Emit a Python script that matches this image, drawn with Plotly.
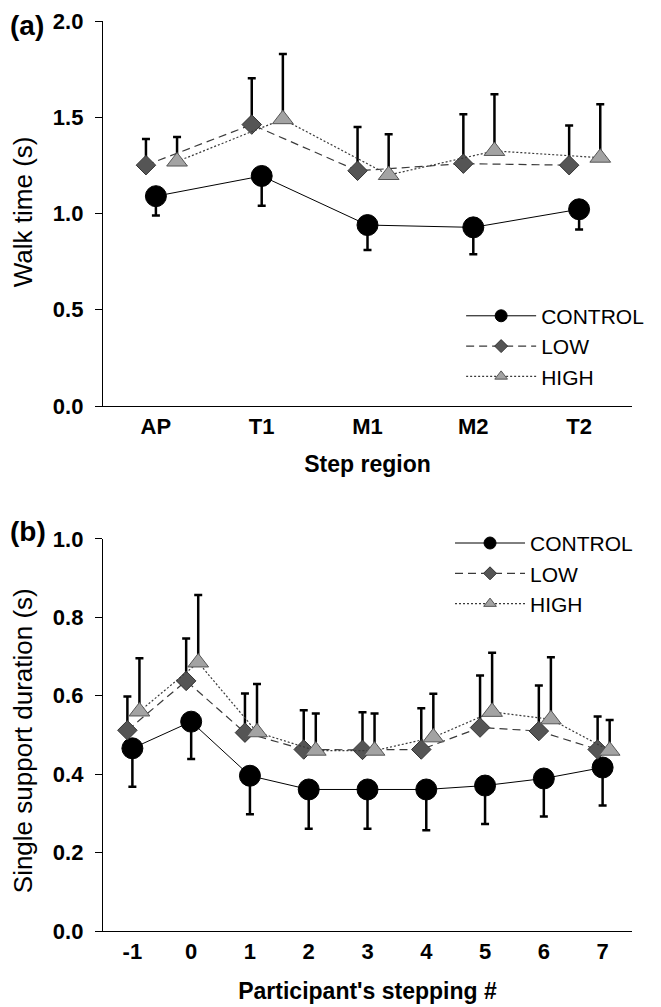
import numpy as np
import plotly.graph_objects as go

# ---------------- data ----------------
regions = ["AP", "T1", "M1", "M2", "T2"]
walk_control = [1.09, 1.195, 0.94, 0.928, 1.022]
walk_control_sd = [0.10, 0.155, 0.13, 0.14, 0.105]
walk_low = [1.251, 1.462, 1.222, 1.259, 1.251]
walk_low_sd = [0.136, 0.24, 0.228, 0.256, 0.206]
walk_high = [1.27, 1.49, 1.20, 1.325, 1.29]
walk_high_sd = [0.128, 0.338, 0.212, 0.295, 0.278]

steps = ["-1", "0", "1", "2", "3", "4", "5", "6", "7"]
ss_control = [0.466, 0.534, 0.396, 0.361, 0.361, 0.361, 0.371, 0.389, 0.417]
ss_control_sd = [0.098, 0.095, 0.098, 0.10, 0.10, 0.104, 0.098, 0.097, 0.097]
ss_low = [0.512, 0.638, 0.506, 0.463, 0.462, 0.463, 0.519, 0.51, 0.463]
ss_low_sd = [0.086, 0.108, 0.10, 0.10, 0.096, 0.105, 0.133, 0.116, 0.084]
ss_high = [0.56, 0.685, 0.507, 0.46, 0.46, 0.494, 0.559, 0.54, 0.46]
ss_high_sd = [0.136, 0.172, 0.123, 0.095, 0.095, 0.111, 0.151, 0.158, 0.078]

# ---------------- styles ----------------
FONT = "Liberation Sans, Arial, sans-serif"
styles = {
    "CONTROL": dict(line=dict(color="black", width=1, dash="solid"),
                    marker=dict(symbol="circle", size=21, color="black",
                                line=dict(color="black", width=1))),
    "LOW": dict(line=dict(color="#3a3a3a", width=1.2, dash="8px,5px"),
                marker=dict(symbol="diamond", size=15, color="#555555",
                            line=dict(color="#333333", width=1))),
    "HIGH": dict(line=dict(color="#3a3a3a", width=1.2, dash="2px,2px"),
                 marker=dict(symbol="triangle-up", size=18, color="#a3a3a3",
                             line=dict(color="#555555", width=1))),
}
legend_marker_size = {"CONTROL": 12, "LOW": 10, "HIGH": 11}

fig = go.Figure()


def add_series(name, xs, ys, sd, down, xa, ya, offset):
    n = len(ys)
    zeros = [0] * n
    eb = dict(type="data", symmetric=False,
              array=zeros if down else sd,
              arrayminus=sd if down else zeros,
              color="black", thickness=2.5, width=4)
    fig.add_trace(go.Scatter(
        x=list(np.arange(n) + offset), y=ys, name=name, mode="lines+markers",
        error_y=eb, xaxis=xa, yaxis=ya, showlegend=False,
        line=styles[name]["line"], marker=styles[name]["marker"],
        hovertext=xs,
    ))


def add_legend_entry(name, xa, ya, legend):
    mk = dict(styles[name]["marker"])
    mk["size"] = legend_marker_size[name]
    fig.add_trace(go.Scatter(
        x=[None], y=[None], name=name, mode="lines+markers",
        xaxis=xa, yaxis=ya, legend=legend, showlegend=True,
        line=styles[name]["line"], marker=mk,
    ))


add_series("CONTROL", regions, walk_control, walk_control_sd, True, "x", "y", 0.0)
add_series("LOW", regions, walk_low, walk_low_sd, False, "x", "y", -0.094)
add_series("HIGH", regions, walk_high, walk_high_sd, False, "x", "y", 0.2)

add_series("CONTROL", steps, ss_control, ss_control_sd, True, "x2", "y2", 0.0)
add_series("LOW", steps, ss_low, ss_low_sd, False, "x2", "y2", -0.085)
add_series("HIGH", steps, ss_high, ss_high_sd, False, "x2", "y2", 0.12)

for nm in ["CONTROL", "LOW", "HIGH"]:
    add_legend_entry(nm, "x", "y", "legend")
for nm in ["CONTROL", "LOW", "HIGH"]:
    add_legend_entry(nm, "x2", "y2", "legend2")

tickfont = dict(family=FONT, size=22, color="black", weight="bold")
xcommon = dict(showline=True, linecolor="black", linewidth=1.3, ticks="",
               showgrid=False, zeroline=False, tickfont=tickfont,
               ticklabelstandoff=0)
ycommon = dict(showline=True, linecolor="black", linewidth=1.3, ticks="outside",
               ticklen=7, tickwidth=1.3, tickcolor="black", showgrid=False,
               zeroline=False, tickfont=tickfont, ticklabelstandoff=7,
               ticklabeloverflow="allow")

top_dom = [0.5769, 1.0]
bot_dom = [0.0, 0.4308]
legend_font = dict(family=FONT, size=21, color="black")

fig.update_layout(
    width=653, height=999,
    margin=dict(l=95, r=29, t=13, b=76, autoexpand=False),
    paper_bgcolor="white", plot_bgcolor="white",
    font=dict(family=FONT, color="black"),
    xaxis=dict(xcommon, domain=[0, 1], anchor="y", range=[-0.5, 4.5],
               tickvals=list(range(len(regions))), ticktext=regions,
               title=dict(text="<b>Step region</b>", standoff=18,
                          font=dict(family=FONT, size=23))),
    yaxis=dict(ycommon, domain=top_dom, anchor="x", range=[0, 2.0],
               tickvals=[0, 0.5, 1.0, 1.5, 2.0], tickformat=".1f"),
    xaxis2=dict(xcommon, domain=[0, 1], anchor="y2", range=[-0.5, 8.5],
                tickvals=list(range(len(steps))), ticktext=steps,
                title=dict(text="<b>Participant's stepping #</b>", standoff=20,
                           font=dict(family=FONT, size=23))),
    yaxis2=dict(ycommon, domain=bot_dom, anchor="x2", range=[0, 1.0],
                tickvals=[0, 0.2, 0.4, 0.6, 0.8, 1.0], tickformat=".1f"),
    legend=dict(x=0.677, y=0.6982, xanchor="left", yanchor="top",
                bgcolor="rgba(0,0,0,0)", font=legend_font,
                itemwidth=70, tracegroupgap=0),
    legend2=dict(x=0.656, y=0.4485, xanchor="left", yanchor="top",
                 bgcolor="rgba(0,0,0,0)", font=legend_font,
                 itemwidth=70, tracegroupgap=0),
    showlegend=True,
    annotations=[
        dict(text="Walk time (s)", xref="paper", yref="paper", x=-0.151,
             y=0.790, textangle=-90, xanchor="center", yanchor="middle",
             showarrow=False, font=dict(family=FONT, size=26)),
        dict(text="Single support duration (s)", xref="paper", yref="paper",
             x=-0.151, y=0.2087, textangle=-90, xanchor="center",
             yanchor="middle", showarrow=False, font=dict(family=FONT, size=26)),
        dict(text="<b>(a)</b>", xref="paper", yref="paper", x=-0.1796, y=1.0143,
             xanchor="left", yanchor="top", showarrow=False,
             font=dict(family=FONT, size=28)),
        dict(text="<b>(b)</b>", xref="paper", yref="paper", x=-0.1796, y=0.4395,
             xanchor="left", yanchor="middle", showarrow=False,
             font=dict(family=FONT, size=28)),
    ],
)

fig.write_html("out.html")
